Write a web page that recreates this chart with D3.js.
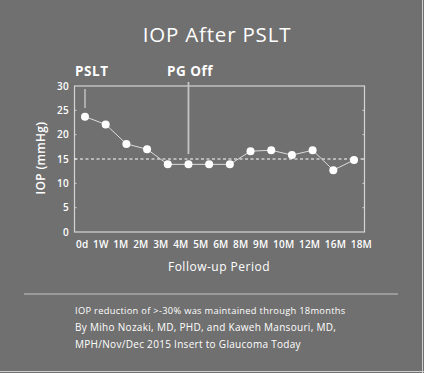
<!DOCTYPE html>
<html>
<head>
<meta charset="utf-8">
<script src="https://cdn.jsdelivr.net/npm/d3@7"></script>
<style>
  body { margin: 0; background: #707070; }
  svg { display: block; }
  text { font-family: "Open Sans", sans-serif; fill: #fff; }
</style>
</head>
<body>
<div id="chart"></div>
<script>
// chart data
const periods = ["0d", "1W", "1M", "2M", "3M", "4M", "5M", "6M", "8M", "9M", "10M", "12M", "16M", "18M"];
const iopValues = [23.7, 22.1, 18.1, 17.0, 13.9, 13.9, 13.9, 13.9, 16.6, 16.8, 15.8, 16.8, 12.7, 14.8];
const yTicks = [0, 5, 10, 15, 20, 25, 30];
const targetLine = 15;
const notes = [
  "IOP reduction of >-30% was maintained through 18months",
  "By Miho Nozaki, MD, PHD, and Kaweh Mansouri, MD,",
  "MPH/Nov/Dec 2015 Insert to Glaucoma Today"
];

let width = 424;
let height = 373;
let svg = d3.select("#chart")
  .append("svg")
  .attr("width", width)
  .attr("height", height);

const plot = { left: 74.5, right: 364.5, top: 86, bottom: 232 };

// points sit a bit inside the frame
let x = d3.scalePoint().domain(periods).range([85, 354]);
let y = d3.scaleLinear().domain([0, 30]).range([plot.bottom, plot.top]);

// outer border on right / bottom
svg.append("line").attr("x1", width - 1.5).attr("x2", width - 1.5).attr("y1", 0).attr("y2", height)
  .attr("stroke", "#cfcfcf").attr("stroke-width", 1);
svg.append("line").attr("x1", 0).attr("x2", width).attr("y1", height - 1.5).attr("y2", height - 1.5)
  .attr("stroke", "#cfcfcf").attr("stroke-width", 1);

// title
svg.append("text")
  .attr("x", 217).attr("y", 42)
  .attr("text-anchor", "middle")
  .style("font-size", "20.5px")
  .style("font-weight", 500)
  .style("letter-spacing", "0.8px")
  .text("IOP After PSLT");

// frame
svg.append("rect")
  .attr("x", plot.left).attr("y", plot.top)
  .attr("width", plot.right - plot.left).attr("height", plot.bottom - plot.top)
  .attr("fill", "none").attr("stroke", "#d4d4d4").attr("stroke-width", 1.2);

// small inward ticks on both sides
yTicks.slice(1, -1).forEach(t => {
  svg.append("line").attr("x1", plot.left).attr("x2", plot.left + 2)
    .attr("y1", y(t)).attr("y2", y(t)).attr("stroke", "#d4d4d4");
  svg.append("line").attr("x1", plot.right - 2).attr("x2", plot.right)
    .attr("y1", y(t)).attr("y2", y(t)).attr("stroke", "#d4d4d4");
});

// y tick labels
svg.selectAll("text.ytick")
  .data(yTicks)
  .enter()
  .append("text")
    .attr("class", "ytick")
    .attr("x", 69).attr("y", d => y(d) + 3.5)
    .attr("text-anchor", "end")
    .style("font-size", "10px")
    .style("font-weight", 600)
    .style("letter-spacing", "0.3px")
    .text(d => d);

// x tick labels: packed left to right with an even gap, like the original
let xTickLabels = svg.selectAll("text.xtick")
  .data(periods)
  .enter()
  .append("text")
    .attr("class", "xtick")
    .attr("y", 247.5)
    .style("font-size", "10px")
    .style("font-weight", 600)
    .style("letter-spacing", "0.2px")
    .text(d => d);

let labelStart = 76, labelEnd = 372;
let widths = [];
xTickLabels.each(function() { widths.push(this.getComputedTextLength()); });
let gap = (labelEnd - labelStart - d3.sum(widths)) / (widths.length - 1);
let cursor = labelStart;
xTickLabels.attr("x", (d, i) => {
  let pos = cursor;
  cursor += widths[i] + gap;
  return pos;
});

// axis titles
svg.append("text")
  .attr("x", 219).attr("y", 271)
  .attr("text-anchor", "middle")
  .style("font-size", "12px")
  .style("font-weight", 500)
  .style("letter-spacing", "0.5px")
  .text("Follow-up Period");

svg.append("text")
  .attr("transform", "translate(45,158) rotate(-90)")
  .attr("text-anchor", "middle")
  .style("font-size", "12px")
  .style("font-weight", 600)
  .style("letter-spacing", "0.3px")
  .text("IOP (mmHg)");

// 15 mmHg reference line
svg.append("line")
  .attr("x1", plot.left).attr("x2", plot.right)
  .attr("y1", y(targetLine)).attr("y2", y(targetLine))
  .attr("stroke", "#fff").attr("stroke-width", 1)
  .attr("stroke-dasharray", "3,2.5");

// annotation markers
svg.append("line")
  .attr("x1", x("0d")).attr("x2", x("0d"))
  .attr("y1", 89).attr("y2", 108)
  .attr("stroke", "#d4d4d4").attr("stroke-width", 1.2);
svg.append("text")
  .attr("x", 75).attr("y", 76)
  .style("font-size", "13.5px")
  .style("font-weight", 700)
  .style("letter-spacing", "0.6px")
  .text("PSLT");

svg.append("line")
  .attr("x1", x("4M")).attr("x2", x("4M"))
  .attr("y1", 82).attr("y2", 154)
  .attr("stroke", "#c4c4c4").attr("stroke-width", 1.8);
svg.append("text")
  .attr("x", 167).attr("y", 76)
  .style("font-size", "13.5px")
  .style("font-weight", 700)
  .style("letter-spacing", "0.5px")
  .text("PG Off");

// series line and points
let line = d3.line()
  .x((d, i) => x(periods[i]))
  .y(d => y(d));

svg.append("path")
  .datum(iopValues)
  .attr("d", line)
  .attr("fill", "none")
  .attr("stroke", "#dcdcdc")
  .attr("stroke-width", 1);

svg.selectAll("circle")
  .data(iopValues)
  .enter()
  .append("circle")
    .attr("cx", (d, i) => x(periods[i]))
    .attr("cy", d => y(d))
    .attr("r", 4)
    .attr("fill", "#fff");

// separator and footnote
svg.append("line")
  .attr("x1", 24).attr("x2", 398)
  .attr("y1", 294).attr("y2", 294)
  .attr("stroke", "#a8a8a8").attr("stroke-width", 1.5);

svg.selectAll("text.note")
  .data(notes)
  .enter()
  .append("text")
    .attr("class", "note")
    .attr("x", 75)
    .attr("y", (d, i) => 314 + i * 17.2)
    .style("font-size", (d, i) => i === 0 ? "9.3px" : "10px")
    .style("letter-spacing", (d, i) => i === 0 ? "0.3px" : "0.3px")
    .text(d => d);
</script>
</body>
</html>
